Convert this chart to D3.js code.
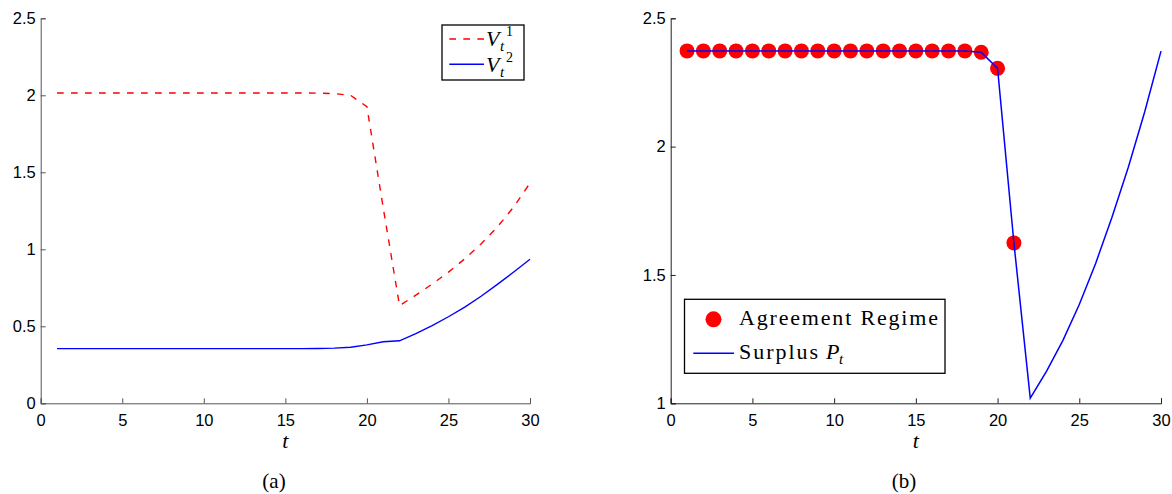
<!DOCTYPE html>
<html>
<head>
<meta charset="utf-8">
<script src="https://cdn.jsdelivr.net/npm/d3@7/dist/d3.min.js"></script>
<style>
  body { margin: 0; background: #fff; }
  .tick text { font-family: "Liberation Sans", Arial, sans-serif; font-size: 16.5px; fill: #000; }
  .serif { font-family: "Liberation Serif", "Times New Roman", serif; fill: #000; }
</style>
</head>
<body>
<div id="chart"></div>
<script>
// Data
var tSteps = [1, 2, 3, 4, 5, 6, 7, 8, 9, 10, 11, 12, 13, 14, 15,
              16, 17, 18, 19, 20, 21, 22, 23, 24, 25, 26, 27, 28, 29, 30];

var v1 = [2.015, 2.015, 2.015, 2.015, 2.015, 2.015, 2.015, 2.015, 2.015, 2.015,
          2.015, 2.015, 2.015, 2.015, 2.015, 2.015, 2.014, 2.011, 2.0, 1.926,
          1.27, 0.634, 0.702, 0.774, 0.852, 0.938, 1.035, 1.145, 1.275, 1.43];

var v2 = [0.355, 0.355, 0.355, 0.355, 0.355, 0.355, 0.355, 0.355, 0.355, 0.355,
          0.355, 0.355, 0.355, 0.355, 0.355, 0.355, 0.356, 0.358, 0.364, 0.379,
          0.4, 0.406, 0.453, 0.505, 0.562, 0.625, 0.695, 0.772, 0.853, 0.935];

var surplus = [2.373, 2.373, 2.373, 2.373, 2.373, 2.373, 2.373, 2.373, 2.373, 2.373,
               2.373, 2.373, 2.373, 2.373, 2.373, 2.373, 2.373, 2.373, 2.368, 2.305,
               1.625, 1.02, 1.125, 1.245, 1.385, 1.545, 1.725, 1.92, 2.135, 2.372];

// periods in the agreement regime (dots drawn on the surplus curve)
var agreeT = [1, 2, 3, 4, 5, 6, 7, 8, 9, 10, 11, 12, 13, 14, 15, 16, 17, 18, 19, 20, 21];

var xTicks = [0, 5, 10, 15, 20, 25, 30];
var yTicksA = [0, 0.5, 1, 1.5, 2, 2.5];
var yTicksB = [1, 1.5, 2, 2.5];

var W = 1172, H = 494;

var svg = d3.select("#chart")
  .append("svg")
    .attr("width", W)
    .attr("height", H);

// helper that draws one panel's axes and returns its scales
function makePanel(left, top, width, height, yDomain, yTicks, axisColor) {
  var g = svg.append("g")
    .attr("transform", "translate(" + left + "," + top + ")");

  var x = d3.scaleLinear().domain([0, 30]).range([0, width]);
  var y = d3.scaleLinear().domain(yDomain).range([height, 0]);

  var xa = g.append("g")
    .attr("transform", "translate(0," + height + ")")
    .call(d3.axisBottom(x).tickValues(xTicks).tickSize(-5).tickPadding(11)
      .tickFormat(d3.format("~g")));

  var ya = g.append("g")
    .call(d3.axisLeft(y).tickValues(yTicks).tickSize(-5).tickPadding(5)
      .tickFormat(d3.format("~g")));

  [xa, ya].forEach(function (a) {
    a.selectAll("path, line").attr("stroke", axisColor).attr("stroke-width", 1);
  });

  // x label
  g.append("text")
    .attr("class", "serif")
    .attr("x", width / 2)
    .attr("y", height + 45)
    .attr("text-anchor", "middle")
    .style("font-size", "22px")
    .style("font-style", "italic")
    .text("t");

  return { g: g, x: x, y: y };
}

// ---------- Panel (a) ----------
var a = makePanel(40.7, 18.3, 489.3, 385, [0, 2.5], yTicksA, "#555");

var lineA1 = d3.line()
  .x(function (d, i) { return a.x(tSteps[i]); })
  .y(function (d) { return a.y(d); });

a.g.append("path")
  .datum(v1)
  .attr("d", lineA1)
  .attr("fill", "none")
  .attr("stroke", "#ff0000")
  .attr("stroke-width", 1.4)
  .attr("stroke-dasharray", "6.7,7.3");

a.g.append("path")
  .datum(v2)
  .attr("d", lineA1)
  .attr("fill", "none")
  .attr("stroke", "#0000ff")
  .attr("stroke-width", 1.4);

// legend (a)
var legA = svg.append("g");
legA.append("rect")
  .attr("x", 442).attr("y", 25).attr("width", 82).attr("height", 55)
  .attr("fill", "#fff").attr("stroke", "#000").attr("stroke-width", 1.3);
legA.append("line")
  .attr("x1", 449.3).attr("x2", 484).attr("y1", 39).attr("y2", 39)
  .attr("stroke", "#ff0000").attr("stroke-width", 1.4).attr("stroke-dasharray", "6.7,7.3");
legA.append("line")
  .attr("x1", 449.3).attr("x2", 484).attr("y1", 64.3).attr("y2", 64.3)
  .attr("stroke", "#0000ff").attr("stroke-width", 1.4);

[["1", 46], ["2", 71.5]].forEach(function (p) {
  legA.append("text").attr("class", "serif")
    .attr("x", 486).attr("y", p[1])
    .style("font-size", "22px").style("font-style", "italic").text("V");
  legA.append("text").attr("class", "serif")
    .attr("x", 500).attr("y", p[1] + 5)
    .style("font-size", "15px").style("font-style", "italic").text("t");
  legA.append("text").attr("class", "serif")
    .attr("x", 506).attr("y", p[1] - 10)
    .style("font-size", "14px").text(p[0]);
});

// caption (a)
svg.append("text").attr("class", "serif")
  .attr("x", 274).attr("y", 488)
  .attr("text-anchor", "middle")
  .style("font-size", "21px")
  .text("(a)");

// ---------- Panel (b) ----------
var b = makePanel(670.7, 18.3, 490.3, 385, [1, 2.5], yTicksB, "#222");

var lineB = d3.line()
  .x(function (d, i) { return b.x(tSteps[i]); })
  .y(function (d) { return b.y(d); });

b.g.selectAll("circle.agree")
  .data(agreeT)
  .enter()
  .append("circle")
    .attr("class", "agree")
    .attr("cx", function (d) { return b.x(d); })
    .attr("cy", function (d) { return b.y(surplus[d - 1]); })
    .attr("r", 7.5)
    .attr("fill", "#ff0000");

b.g.append("path")
  .datum(surplus)
  .attr("d", lineB)
  .attr("fill", "none")
  .attr("stroke", "#0000ff")
  .attr("stroke-width", 1.5);

// legend (b)
var legB = svg.append("g");
legB.append("rect")
  .attr("x", 684.5).attr("y", 299.3).attr("width", 260.5).attr("height", 74)
  .attr("fill", "#fff").attr("stroke", "#000").attr("stroke-width", 1.3);
legB.append("circle")
  .attr("cx", 713.5).attr("cy", 319.3).attr("r", 8).attr("fill", "#ff0000");
legB.append("line")
  .attr("x1", 693.3).attr("x2", 734).attr("y1", 353.3).attr("y2", 353.3)
  .attr("stroke", "#0000ff").attr("stroke-width", 1.5);
legB.append("text").attr("class", "serif")
  .attr("x", 739).attr("y", 325)
  .attr("textLength", 199).attr("lengthAdjust", "spacing")
  .style("font-size", "22px")
  .text("Agreement Regime");
legB.append("text").attr("class", "serif")
  .attr("x", 739).attr("y", 359.3)
  .attr("textLength", 79).attr("lengthAdjust", "spacing")
  .style("font-size", "22px")
  .text("Surplus");
legB.append("text").attr("class", "serif")
  .attr("x", 826).attr("y", 359.3)
  .style("font-size", "22px").style("font-style", "italic")
  .text("P");
legB.append("text").attr("class", "serif")
  .attr("x", 839).attr("y", 363.5)
  .style("font-size", "15px").style("font-style", "italic")
  .text("t");

// caption (b)
svg.append("text").attr("class", "serif")
  .attr("x", 904).attr("y", 488)
  .attr("text-anchor", "middle")
  .style("font-size", "21px")
  .text("(b)");
</script>
</body>
</html>
